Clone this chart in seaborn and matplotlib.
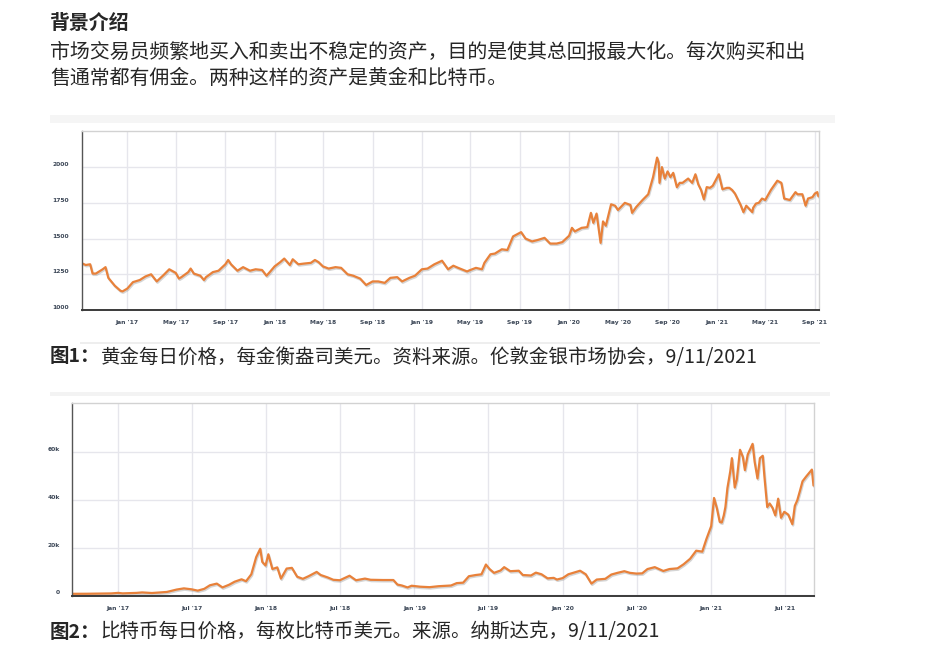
import numpy as np
import pandas as pd
import matplotlib
matplotlib.use("Agg")
import matplotlib.pyplot as plt
import matplotlib.dates as mdates
import matplotlib.patheffects as pe
from matplotlib.patches import Rectangle
import seaborn as sns

# ---------------- data ----------------
gold_dates = [
    "2016-09-12", "2016-09-20", "2016-10-01", "2016-10-07", "2016-10-15", "2016-11-01", "2016-11-08",
    "2016-11-15", "2016-12-01", "2016-12-15", "2016-12-20", "2017-01-01", "2017-01-15", "2017-02-01",
    "2017-02-15", "2017-03-01", "2017-03-15", "2017-04-01", "2017-04-15", "2017-05-01", "2017-05-09",
    "2017-05-15", "2017-06-01", "2017-06-07", "2017-06-15", "2017-07-01", "2017-07-10", "2017-07-15",
    "2017-08-01", "2017-08-15", "2017-09-01", "2017-09-08", "2017-09-15", "2017-10-01", "2017-10-15",
    "2017-11-01", "2017-11-15", "2017-12-01", "2017-12-12", "2017-12-20", "2018-01-01", "2018-01-15",
    "2018-01-25", "2018-02-08", "2018-02-15", "2018-03-01", "2018-03-15", "2018-04-01", "2018-04-11",
    "2018-04-20", "2018-05-01", "2018-05-15", "2018-06-01", "2018-06-15", "2018-07-01", "2018-07-15",
    "2018-08-01", "2018-08-16", "2018-09-01", "2018-09-15", "2018-10-01", "2018-10-15", "2018-11-01",
    "2018-11-13", "2018-12-01", "2018-12-15", "2019-01-01", "2019-01-15", "2019-02-01", "2019-02-20",
    "2019-03-07", "2019-03-20", "2019-04-01", "2019-04-23", "2019-05-01", "2019-05-15", "2019-05-30",
    "2019-06-05", "2019-06-20", "2019-07-01", "2019-07-18", "2019-08-01", "2019-08-15", "2019-09-04",
    "2019-09-15", "2019-10-01", "2019-10-15", "2019-11-01", "2019-11-15", "2019-12-01", "2019-12-15",
    "2020-01-01", "2020-01-08", "2020-01-15", "2020-02-01", "2020-02-15", "2020-02-24", "2020-03-01",
    "2020-03-09", "2020-03-19", "2020-03-25", "2020-04-01", "2020-04-14", "2020-04-24", "2020-05-01",
    "2020-05-18", "2020-06-01", "2020-06-05", "2020-06-15", "2020-07-01", "2020-07-15", "2020-07-27",
    "2020-08-06", "2020-08-10", "2020-08-12", "2020-08-18", "2020-08-25", "2020-09-01", "2020-09-08",
    "2020-09-15", "2020-09-24", "2020-10-01", "2020-10-08", "2020-10-15", "2020-10-22", "2020-11-01",
    "2020-11-09", "2020-11-16", "2020-11-23", "2020-11-30", "2020-12-07", "2020-12-15", "2020-12-22",
    "2021-01-06", "2021-01-15", "2021-01-26", "2021-02-01", "2021-02-08", "2021-02-15", "2021-03-01",
    "2021-03-08", "2021-03-15", "2021-03-30", "2021-04-01", "2021-04-08", "2021-04-15", "2021-04-23",
    "2021-05-01", "2021-05-15", "2021-05-31", "2021-06-10", "2021-06-17", "2021-07-01", "2021-07-15",
    "2021-07-20", "2021-08-01", "2021-08-09", "2021-08-15", "2021-08-26", "2021-09-01", "2021-09-07",
    "2021-09-10",
]
gold_usd = [
    1325, 1315, 1320, 1255, 1255, 1285, 1300,
    1225, 1170, 1135, 1130, 1150, 1195, 1210,
    1235, 1250, 1200, 1245, 1285, 1260, 1220,
    1230, 1265, 1290, 1255, 1240, 1210, 1230,
    1265, 1275, 1320, 1350, 1320, 1275, 1300,
    1275, 1285, 1280, 1240, 1265, 1305, 1335,
    1360, 1315, 1355, 1320, 1325, 1330, 1350,
    1335, 1305, 1290, 1300, 1295, 1250, 1240,
    1220, 1175, 1200, 1200, 1190, 1225, 1230,
    1200, 1225, 1240, 1285, 1290, 1320, 1345,
    1285, 1310, 1295, 1270, 1280, 1295, 1285,
    1330, 1390, 1395, 1425, 1420, 1515, 1545,
    1500, 1480, 1490, 1505, 1465, 1465, 1475,
    1520, 1575, 1550, 1575, 1580, 1680, 1610,
    1675, 1470, 1620, 1590, 1740, 1730, 1700,
    1750, 1735, 1680, 1720, 1770, 1810, 1930,
    2067, 2030, 1890, 2000, 1920, 1970, 1930,
    1960, 1860, 1890, 1890, 1905, 1920, 1890,
    1950, 1880, 1840, 1775, 1860, 1855, 1870,
    1950, 1845, 1855, 1855, 1840, 1815, 1735,
    1685, 1730, 1685, 1715, 1745, 1750, 1780,
    1770, 1840, 1905, 1890, 1780, 1770, 1825,
    1810, 1810, 1730, 1780, 1790, 1815, 1825,
    1795,
]

btc_dates = [
    "2016-09-11", "2016-10-15", "2016-11-15", "2016-12-15", "2017-01-01", "2017-01-12", "2017-02-15",
    "2017-03-01", "2017-03-25", "2017-04-15", "2017-05-01", "2017-05-25", "2017-06-12", "2017-07-01",
    "2017-07-16", "2017-08-01", "2017-08-15", "2017-09-01", "2017-09-15", "2017-10-01", "2017-10-15",
    "2017-11-01", "2017-11-12", "2017-11-25", "2017-12-07", "2017-12-17", "2017-12-22", "2017-12-30",
    "2018-01-06", "2018-01-16", "2018-01-28", "2018-02-06", "2018-02-20", "2018-03-05", "2018-03-18",
    "2018-04-01", "2018-04-15", "2018-05-05", "2018-05-15", "2018-06-01", "2018-06-15", "2018-07-01",
    "2018-07-25", "2018-08-10", "2018-09-01", "2018-09-15", "2018-10-15", "2018-11-10", "2018-11-20",
    "2018-12-01", "2018-12-15", "2018-12-25", "2019-01-15", "2019-02-07", "2019-03-01", "2019-04-01",
    "2019-04-15", "2019-05-01", "2019-05-15", "2019-06-01", "2019-06-15", "2019-06-26", "2019-07-05",
    "2019-07-16", "2019-08-01", "2019-08-10", "2019-08-25", "2019-09-15", "2019-09-25", "2019-10-15",
    "2019-10-27", "2019-11-10", "2019-11-25", "2019-12-10", "2019-12-18", "2020-01-01", "2020-01-15",
    "2020-02-13", "2020-02-27", "2020-03-12", "2020-03-25", "2020-04-15", "2020-04-30", "2020-05-15",
    "2020-06-01", "2020-06-15", "2020-07-01", "2020-07-15", "2020-07-28", "2020-08-15", "2020-09-05",
    "2020-09-20", "2020-10-10", "2020-10-25", "2020-11-10", "2020-11-25", "2020-12-10", "2020-12-20",
    "2021-01-01", "2021-01-08", "2021-01-15", "2021-01-22", "2021-01-27", "2021-02-01", "2021-02-05",
    "2021-02-10", "2021-02-17", "2021-02-21", "2021-02-28", "2021-03-05", "2021-03-13", "2021-03-20",
    "2021-03-25", "2021-04-01", "2021-04-13", "2021-04-18", "2021-04-25", "2021-05-01", "2021-05-08",
    "2021-05-12", "2021-05-19", "2021-05-25", "2021-06-01", "2021-06-08", "2021-06-15", "2021-06-22",
    "2021-06-30", "2021-07-10", "2021-07-20", "2021-07-26", "2021-08-01", "2021-08-08", "2021-08-14",
    "2021-08-23", "2021-09-06", "2021-09-10",
]
btc_usd = [
    620, 640, 710, 780, 1000, 800, 1000,
    1200, 950, 1180, 1400, 2400, 2900, 2500,
    1950, 2700, 4200, 4900, 3300, 4400, 5700,
    6700, 5900, 8800, 16000, 19500, 14000, 12500,
    17200, 11000, 11700, 7000, 11200, 11500, 7800,
    6900, 8000, 9800, 8500, 7500, 6500, 6300,
    8200, 6300, 7000, 6500, 6400, 6400, 4500,
    4100, 3300, 4000, 3600, 3400, 3800, 4100,
    5100, 5300, 8000, 8500, 8800, 12900, 11000,
    9400, 10400, 11800, 10100, 10300, 8500, 8300,
    9500, 8800, 7100, 7300, 6600, 7200, 8800,
    10300, 8800, 4900, 6600, 6900, 8700, 9400,
    10100, 9400, 9100, 9200, 11000, 11800, 10200,
    11000, 11300, 13000, 15300, 18700, 18300, 23500,
    29000, 40800, 36500, 30800, 30500, 33500, 37000,
    45000, 52000, 57500, 45200, 48500, 61000, 58000,
    52500, 59000, 63500, 56000, 49000, 57500, 58500,
    50000, 37000, 38500, 36700, 33500, 40500, 32500,
    35000, 33800, 29800, 37500, 39800, 44000, 47800,
    49800, 52700, 46000,
]

gold_yticks = [1000, 1250, 1500, 1750, 2000]
btc_yticks = [0, 20000, 40000, 60000]
btc_ytick_labels = ["0", "20k", "40k", "60k"]

header = "背景介绍"
body_lines = [
    "市场交易员频繁地买入和卖出不稳定的资产，目的是使其总回报最大化。每次购买和出",
    "售通常都有佣金。两种这样的资产是黄金和比特币。",
]
cap1_bold = "图1："
cap1_rest = "黄金每日价格，每金衡盎司美元。资料来源。伦敦金银市场协会，9/11/2021"
cap2_bold = "图2："
cap2_rest = "比特币每日价格，每枚比特币美元。来源。纳斯达克，9/11/2021"

gold_df = pd.DataFrame({"date": pd.to_datetime(gold_dates), "price": gold_usd})
btc_df = pd.DataFrame({"date": pd.to_datetime(btc_dates), "price": btc_usd})

# ---------------- style ----------------
sns.set_style("white")
plt.rcParams["font.family"] = ["Noto Sans CJK SC", "DejaVu Sans"]

W, H = 932, 650
fig = plt.figure(figsize=(W / 100, H / 100), dpi=100)

LINE = "#e8813a"
GRID = "#e6e6ec"
TICKC = "#3b4656"


def px_axes(l, t, r, b):
    return fig.add_axes([l / W, 1 - b / H, (r - l) / W, (b - t) / H])


def style_axes(ax, left_col):
    ax.set_xlabel("")
    ax.set_ylabel("")
    ax.grid(True, color=GRID, linewidth=1.0)
    ax.tick_params(length=0, labelsize=4.3, labelcolor=TICKC)
    ax.tick_params(axis="x", pad=7)
    ax.tick_params(axis="y", pad=9)
    for lbl in ax.get_xticklabels() + ax.get_yticklabels():
        lbl.set_fontweight("bold")
        lbl.set_family(["DejaVu Sans"])
    for lbl in ax.get_yticklabels():
        lbl.set_va("bottom")
    ax.spines["top"].set_color("#d2d2d2")
    ax.spines["right"].set_color("#d2d2d2")
    ax.spines["left"].set_color(left_col)
    ax.spines["bottom"].set_color("#3a3a3a")
    ax.spines["bottom"].set_linewidth(1.4)
    ax.spines["left"].set_linewidth(1.0)
    ax.spines["top"].set_linewidth(1.0)
    ax.spines["right"].set_linewidth(1.0)


shadow = [pe.SimpleLineShadow(offset=(0.6, -1.0), shadow_color="#888888", alpha=0.35),
          pe.Normal()]

# light band decorations
fig.patches.append(Rectangle((50 / W, 1 - 123 / H), 785 / W, 8 / H, transform=fig.transFigure,
                             facecolor="#f5f5f5", edgecolor="none"))
fig.patches.append(Rectangle((80 / W, 1 - 344 / H), 740 / W, 2 / H, transform=fig.transFigure,
                             facecolor="#eeeeee", edgecolor="none"))
fig.patches.append(Rectangle((50 / W, 1 - 396 / H), 780 / W, 4 / H, transform=fig.transFigure,
                             facecolor="#f3f3f3", edgecolor="none"))

# ---------------- chart 1: gold ----------------
ax1 = px_axes(81.7, 130.7, 819.3, 310)
sns.lineplot(data=gold_df, x="date", y="price", ax=ax1, color=LINE, linewidth=1.6,
             path_effects=shadow)
ax1.set_xlim(pd.Timestamp("2016-09-10"), pd.Timestamp("2021-09-12"))
ax1.set_ylim(1000, 2255)
ax1.set_yticks(gold_yticks)
ax1.set_yticklabels([str(v) for v in gold_yticks])
ax1.xaxis.set_major_locator(mdates.MonthLocator(bymonth=[1, 5, 9]))
ax1.xaxis.set_major_formatter(mdates.DateFormatter("%b '%y"))
style_axes(ax1, "#555555")

# ---------------- chart 2: bitcoin ----------------
ax2 = px_axes(72.3, 403.3, 814.3, 596)
sns.lineplot(data=btc_df, x="date", y="price", ax=ax2, color=LINE, linewidth=1.6,
             path_effects=shadow)
ax2.set_xlim(pd.Timestamp("2016-09-10"), pd.Timestamp("2021-09-12"))
ax2.set_ylim(-300, 80500)
ax2.set_yticks(btc_yticks)
ax2.set_yticklabels(btc_ytick_labels)
ax2.xaxis.set_major_locator(mdates.MonthLocator(bymonth=[1, 7]))
ax2.xaxis.set_major_formatter(mdates.DateFormatter("%b '%y"))
style_axes(ax2, "#555555")

# ---------------- text ----------------
FS = 14.35
fig.text(50 / W, 1 - 22 / H, header, fontsize=FS, fontweight="bold", va="center", ha="left")
fig.text(50 / W, 1 - 52 / H, body_lines[0], fontsize=FS, va="center", ha="left")
fig.text(50 / W, 1 - 78 / H, body_lines[1], fontsize=FS, va="center", ha="left")

renderer = fig.canvas.get_renderer()


def caption(y, bold, rest):
    t = fig.text(50 / W, 1 - y / H, bold, fontsize=14.0, fontweight="bold",
                 va="center", ha="left")
    bb = t.get_window_extent(renderer=renderer)
    fig.text(bb.x1 / W, 1 - y / H, rest, fontsize=14.0, va="center", ha="left")


caption(357, cap1_bold, cap1_rest)
caption(632, cap2_bold, cap2_rest)

fig.savefig("out.png", dpi=100, facecolor="white")
